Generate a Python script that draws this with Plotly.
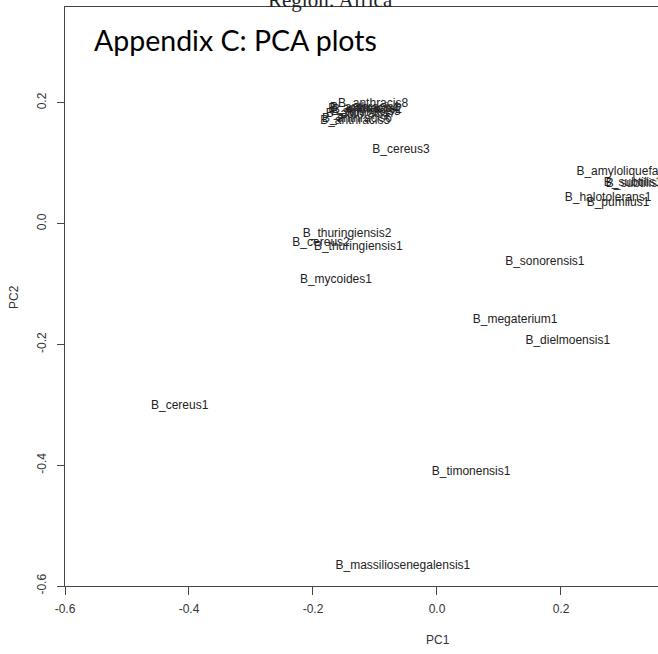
import plotly.graph_objects as go

# ---- data (PCA scores) ----
strains = [
    "B_anthracis8", "B_anthracis1", "B_anthracis2", "B_anthracis3", "B_anthracis4",
    "B_anthracis7", "B_anthracis6", "B_anthracis5",
    "B_cereus3", "B_amyloliquefaciens1", "B_subtilis1", "B_subtilis2",
    "B_halotolerans1", "B_pumilus1",
    "B_thuringiensis2", "B_cereus2", "B_thuringiensis1", "B_mycoides1",
    "B_sonorensis1", "B_megaterium1", "B_dielmoensis1",
    "B_cereus1", "B_timonensis1", "B_massiliosenegalensis1",
]
pc1 = [
    -0.103, -0.116, -0.113, -0.115, -0.119,
    -0.123, -0.129, -0.132,
    -0.058, 0.319, 0.316, 0.319,
    0.276, 0.292,
    -0.145, -0.187, -0.127, -0.163,
    0.174, 0.126, 0.211,
    -0.415, 0.055, -0.055,
]
pc2 = [
    0.198, 0.191, 0.188, 0.185, 0.190,
    0.181, 0.173, 0.170,
    0.122, 0.085, 0.067, 0.066,
    0.042, 0.034,
    -0.017, -0.032, -0.039, -0.094,
    -0.064, -0.160, -0.195,
    -0.302, -0.411, -0.567,
]
tick_vals = [-0.6, -0.4, -0.2, 0.0, 0.2]
tick_text = ["-0.6", "-0.4", "-0.2", "0.0", "0.2"]

W, H = 658, 654
ML, MR, MT, MB = 65, 0, 7, 68

fig = go.Figure()
fig.add_trace(go.Scatter(
    x=pc1, y=pc2, text=strains, mode="text",
    textposition="middle center",
    textfont=dict(family="Liberation Sans, Arial, sans-serif", size=12, color="#222222"),
    hoverinfo="skip", showlegend=False,
))

axis_common = dict(
    showgrid=False, zeroline=False, showline=True, linecolor="#444444", linewidth=1,
    ticks="outside", tickcolor="#444444", tickwidth=1,
    tickfont=dict(family="Liberation Sans, Arial, sans-serif", size=12, color="#333333"),
    tickvals=tick_vals, ticktext=tick_text,
)

fig.update_xaxes(range=[-0.6, 0.3565], ticklen=8, ticklabelstandoff=4, mirror=True, **axis_common)
fig.update_yaxes(range=[-0.6, 0.3586], ticklen=7, tickangle=-90, ticklabelstandoff=6, **axis_common)

fig.add_annotation(text="PC1", xref="paper", yref="paper", x=(438 - ML) / 593, y=(586 - 640) / 579,
                   showarrow=False, xanchor="center", yanchor="middle",
                   font=dict(family="Liberation Sans, Arial, sans-serif", size=12, color="#333333"))
fig.add_annotation(text="PC2", xref="paper", yref="paper", x=(14 - ML) / 593, y=(586 - 297) / 579,
                   showarrow=False, xanchor="center", yanchor="middle", textangle=-90,
                   font=dict(family="Liberation Sans, Arial, sans-serif", size=12, color="#333333"))
fig.add_annotation(text="Appendix C: PCA plots", xref="paper", yref="paper",
                   x=(235 - ML) / 593, y=(586 - 40) / 579,
                   showarrow=False, xanchor="center", yanchor="middle",
                   font=dict(family="Lato, Open Sans, sans-serif", size=28.5, color="#000000"))
fig.add_annotation(text="Region: Africa", xref="paper", yref="paper",
                   x=(330 - ML) / 593, y=(586 - 14) / 579,
                   showarrow=False, xanchor="center", yanchor="bottom",
                   font=dict(family="Liberation Serif, Times New Roman, serif", size=21, color="#222222"))

fig.update_layout(
    width=W, height=H, autosize=False,
    margin=dict(l=ML, r=MR, t=MT, b=MB, pad=0),
    paper_bgcolor="white", plot_bgcolor="white",
)

fig.write_html("out.html")
